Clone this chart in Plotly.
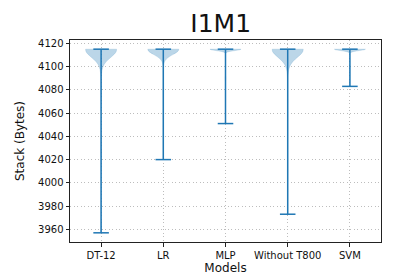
import numpy as np
import plotly.graph_objects as go

# ---- data ----
models = ["DT-12", "LR", "MLP", "Without T800", "SVM"]

dt12_values = [4115, 4112, 4108, 4100, 4080, 4030, 3957]
dt12_counts = [60, 4, 3, 2, 1, 1, 1]
lr_values = [4115, 4112, 4105, 4080, 4020]
lr_counts = [60, 3, 1, 1, 1]
mlp_values = [4115, 4114, 4090, 4051]
mlp_counts = [60, 1, 1, 1]
wo_values = [4115, 4112, 4108, 4100, 4070, 4010, 3973]
wo_counts = [60, 4, 3, 2, 1, 1, 1]
svm_values = [4115, 4114, 4100, 4083]
svm_counts = [60, 1, 1, 1]

all_values = [dt12_values, lr_values, mlp_values, wo_values, svm_values]
all_counts = [dt12_counts, lr_counts, mlp_counts, wo_counts, svm_counts]
bandwidths = [6.5, 4.5, 1.2, 6.5, 1.2]

C0 = "#1f77b4"
fig = go.Figure()
positions = list(range(1, len(models) + 1))

mins, maxs = [], []
for pos, vals, cnts, bw in zip(positions, all_values, all_counts, bandwidths):
    samples = np.repeat(vals, cnts)
    mins.append(samples.min())
    maxs.append(samples.max())
    fig.add_trace(go.Violin(
        x=[pos] * len(samples), y=samples, width=0.5, spanmode="hard",
        bandwidth=bw, scalemode="width", points=False,
        box_visible=False, meanline_visible=False,
        fillcolor="rgba(31,119,180,0.3)",
        line=dict(color="rgba(31,119,180,0.3)", width=0.5),
        showlegend=False, hoverinfo="skip",
    ))

# extrema: stems and caps
xs, ys = [], []
for pos, lo, hi in zip(positions, mins, maxs):
    xs += [pos, pos, None, pos - 0.125, pos + 0.125, None, pos - 0.125, pos + 0.125, None]
    ys += [lo, hi, None, lo, lo, None, hi, hi, None]
fig.add_trace(go.Scatter(x=xs, y=ys, mode="lines", line=dict(color=C0, width=1.5),
                         showlegend=False, hoverinfo="skip"))

lo_all, hi_all = min(mins), max(maxs)
pad = (hi_all - lo_all) * 0.05

axis_common = dict(
    showline=True, mirror=True, linecolor="#222", linewidth=1,
    ticks="outside", ticklen=3.5, tickwidth=0.8, tickcolor="#222",
    showgrid=True, gridcolor="#bdbdbd", gridwidth=1, griddash="1px,2.5px",
    zeroline=False, tickfont=dict(size=10, color="#111"),
)

fig.update_layout(
    width=415, height=277,
    margin=dict(l=52, r=42, t=32, b=35),
    paper_bgcolor="white", plot_bgcolor="white",
    font=dict(family="DejaVu Sans", color="#111"),
    violinmode="overlay",
    title=dict(text="I1M1", x=0.5125, xanchor="center", y=0.975, yanchor="top",
               font=dict(size=25, color="#111")),
    xaxis=dict(range=[0.5, 5.5], tickmode="array", tickvals=positions, ticktext=models,
               title=dict(text="Models", font=dict(size=12), standoff=4), **axis_common),
    yaxis=dict(range=[lo_all - pad, hi_all + pad], tickmode="array",
               tickvals=list(range(3960, 4121, 20)),
               title=dict(text="Stack (Bytes)", font=dict(size=12), standoff=10), **axis_common),
)

fig.write_html("out.html")
